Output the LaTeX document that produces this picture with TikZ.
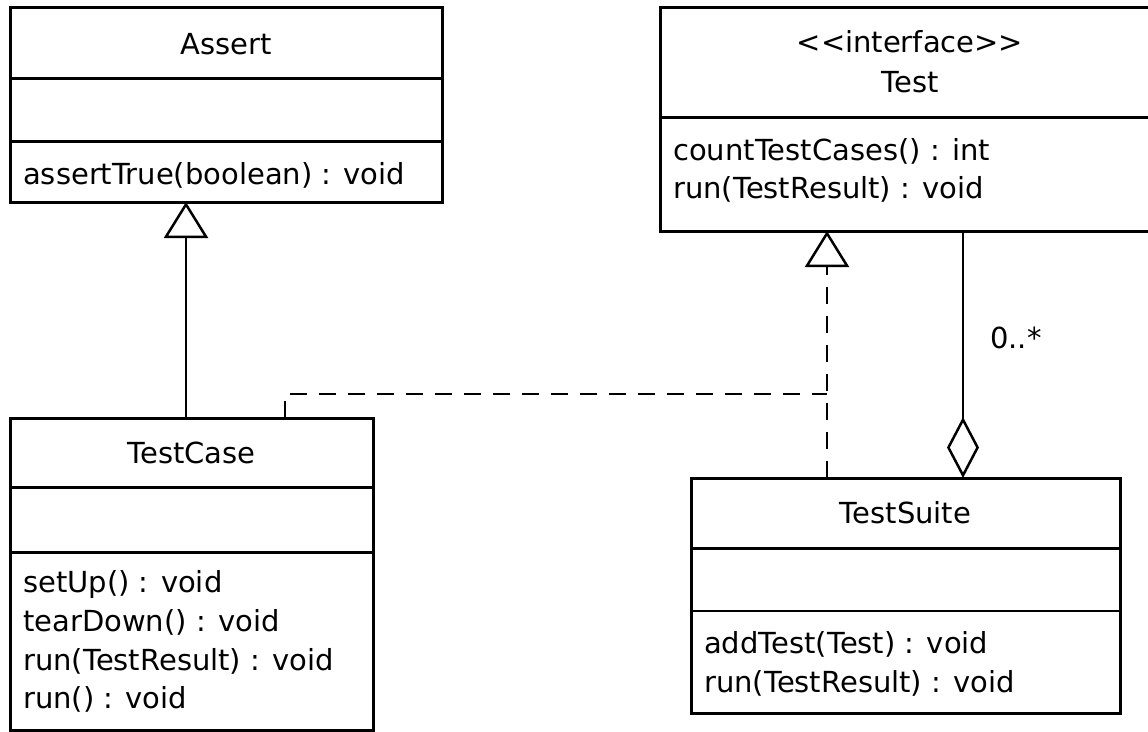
\documentclass[tikz,border=0pt]{standalone}
\usepackage{fontspec}
\setmainfont{DejaVu Sans}
\usepackage{tikz}
\usetikzlibrary{arrows.meta,positioning,calc}
\tikzset{
  classbox/.style={
    draw,
    line width=3pt,
    anchor=north west,
    outer sep=0pt,
    inner sep=0pt
  },
  compline/.style={line width=3pt},
  thincompline/.style={line width=1.5pt},
  classname/.style={anchor=base, inner sep=0pt, font=\fontsize{29pt}{38pt}\selectfont},
  member/.style={anchor=base west, inner sep=0pt, font=\fontsize{29pt}{38pt}\selectfont},
  inherit/.style={line width=2.5pt, -{Triangle[open, length=36pt, width=44pt]}},
  realize/.style={inherit, dash pattern=on 17pt off 12pt},
  realizeline/.style={line width=2.5pt, dash pattern=on 17pt off 12pt},
  aggregation/.style={line width=2.5pt, -{Diamond[open, length=61pt, width=32pt]}}
}

\begin{document}
\begin{tikzpicture}[x=1pt, y=-1pt]
  \clip (0,0) rectangle (1148,731);
  % classes
  \node[classbox, minimum width=432pt, minimum height=195pt] (assert) at (10,7) {};
  \node[classbox, minimum width=500pt, minimum height=224pt] (test) at (660,7) {};
  \node[classbox, minimum width=363pt, minimum height=312pt] (testcase) at (10,418) {};
  \node[classbox, minimum width=429pt, minimum height=235pt] (testsuite) at (691,478) {};

  % compartments
  \draw[compline] (assert.west |- 0,78) -- (assert.east |- 0,78);
  \draw[compline] (assert.west |- 0,141) -- (assert.east |- 0,141);
  \draw[compline] (test.west |- 0,117) -- (test.east |- 0,117);
  \draw[compline] (testcase.west |- 0,487) -- (testcase.east |- 0,487);
  \draw[compline] (testcase.west |- 0,552) -- (testcase.east |- 0,552);
  \draw[compline] (testsuite.west |- 0,548) -- (testsuite.east |- 0,548);
  \draw[thincompline] (testsuite.west |- 0,611) -- (testsuite.east |- 0,611);

  % names
  \node[classname] (assertname) at (assert.north |- 0,54) {Assert};
  \node[classname] (teststereo) at (test.north |- 0,52) {<\kern0pt<interface>\kern0pt>};
  \node[classname] (testname) at (test.north |- 0,92) {Test};
  \node[classname] (testcasename) at (testcase.north |- 0,463) {TestCase};
  \node[classname] (testsuitename) at (testsuite.north |- 0,523) {TestSuite};

  % operations
  \node[member] (assertop) at (23,184) {assertTrue(boolean) : void};
  \node[member] (testopa) at (673,160) {countTestCases() : int};
  \node[member] (testopb) at (673,198) {run(TestResult) : void};
  \node[member] (testcaseopa) at (23,592) {setUp() : void};
  \node[member] (testcaseopb) at (23,631) {tearDown() : void};
  \node[member] (testcaseopc) at (23,670) {run(TestResult) : void};
  \node[member] (testcaseopd) at (23,708) {run() : void};
  \node[member] (testsuiteopa) at (704,653) {addTest(Test) : void};
  \node[member] (testsuiteopb) at (704,692) {run(TestResult) : void};

  % relations
  \draw[inherit] ([xshift=176pt]testcase.north west) -- ([xshift=176pt]assert.south west);
  \draw[realize] ([xshift=136pt]testsuite.north west) -- ([xshift=167pt]test.south west);
  \coordinate (joint) at ([xshift=136pt, yshift=84pt]testsuite.north west);
  \draw[realizeline] ([xshift=275pt]testcase.north west) |- (joint);
  \draw[aggregation] ([xshift=303pt]test.south west) -- ([xshift=272pt]testsuite.north west);
  \node[member] (mult) at (990,348) {0..*};
\end{tikzpicture}
\end{document}
